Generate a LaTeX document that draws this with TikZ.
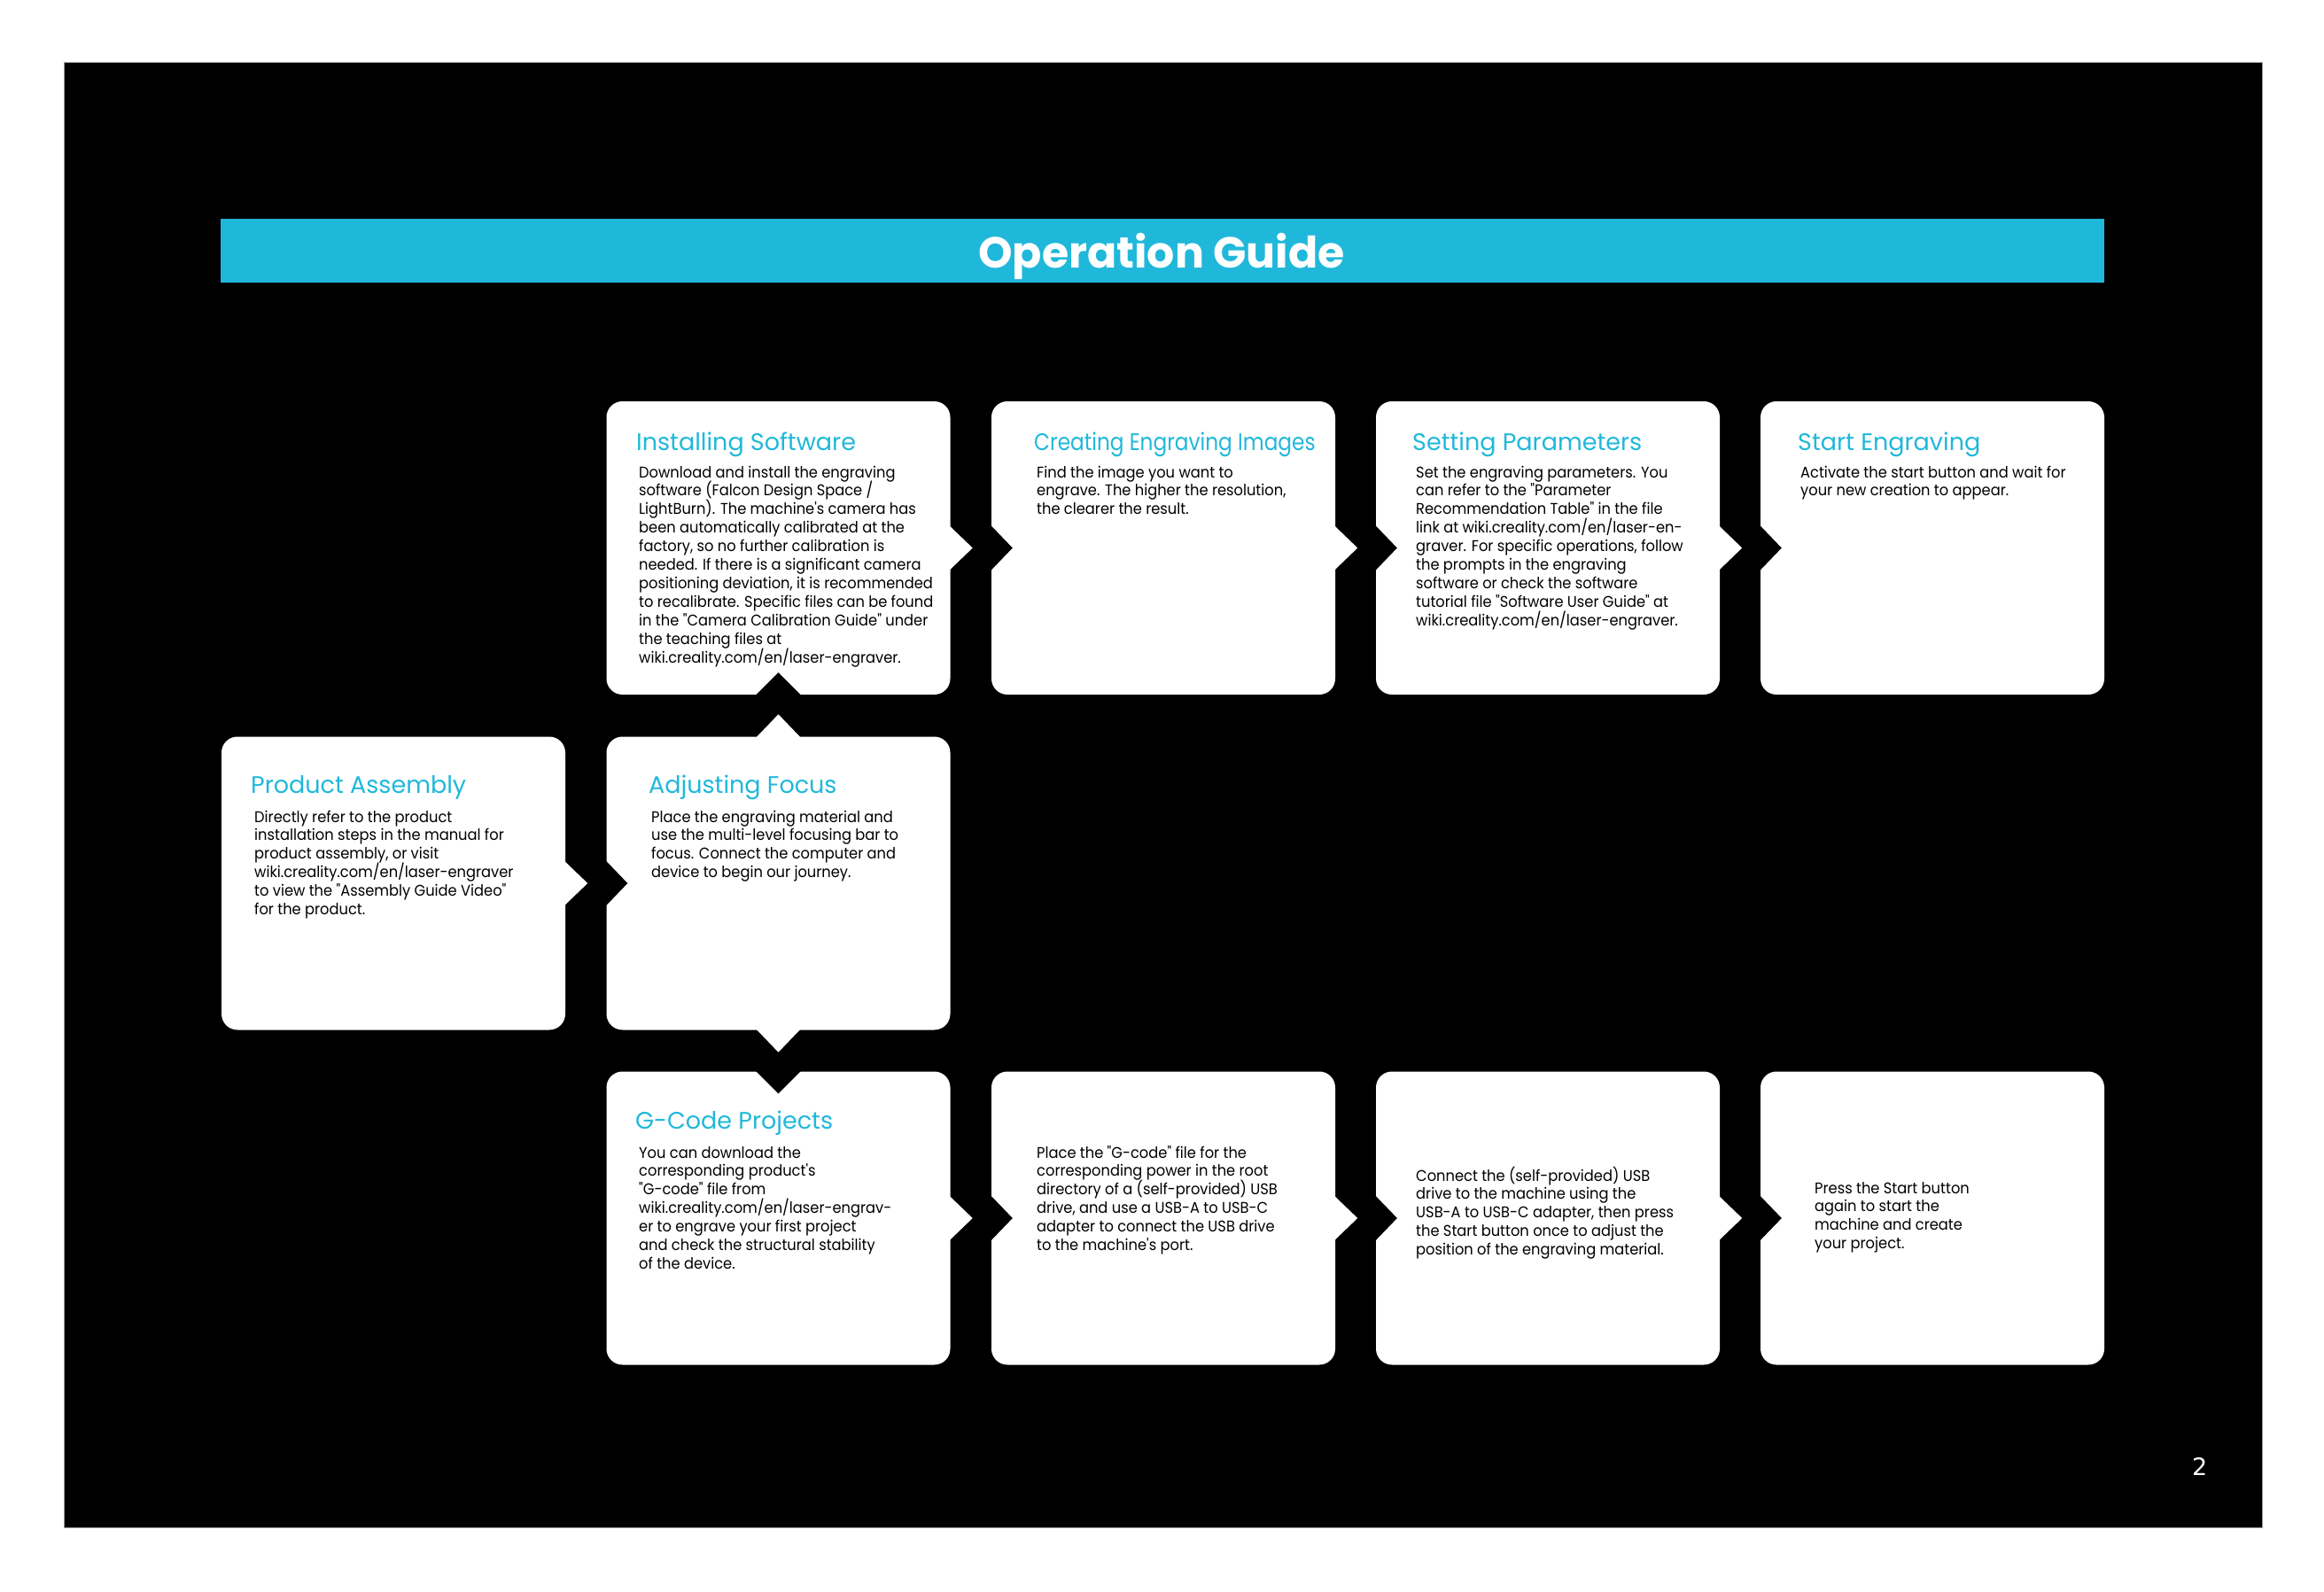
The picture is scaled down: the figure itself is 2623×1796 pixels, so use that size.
\documentclass[tikz,border=0pt]{standalone}
\usepackage{fontspec}
\setmainfont{Poppins}
\newfontfamily\bodyfont[FakeStretch=0.93]{Poppins}
\newfontfamily\numfont{DejaVu Sans}
\definecolor{guideblue}{HTML}{20B8DA}
\newcommand{\bodylines}[1]{\vtop{\baselineskip=20.9pt\lineskiplimit=-100pt\let\\\cr\halign{##\hfil\cr#1\crcr}}}
\tikzset{
  stepbox/.style={fill=white, rounded corners=18pt, minimum width=388pt, minimum height=331pt, inner sep=0pt, draw=none},
  headtext/.style={anchor=base west, inner sep=0pt, text=guideblue, font=\fontsize{27}{30}\selectfont},
  bodytext/.style={anchor=base west, inner sep=0pt, text=black, font=\bodyfont\fontsize{17.5}{21}\selectfont},
  tipw/.style={fill=white},
  notchb/.style={fill=black}
}
\begin{document}
\begin{tikzpicture}[x=1pt,y=-1pt]
\useasboundingbox (0,0) rectangle (2623,1796);
\fill[white] (0,0) rectangle (2623,1796);
\draw[fill=black, draw=gray!80, line width=1pt] (72,70) rectangle (2553,1724);
\node[fill=guideblue, minimum width=2126pt, minimum height=72pt, inner sep=0pt, anchor=north west] (bar) at (249,247) {};
\node[text=white, inner sep=0pt, anchor=base, font=\fontsize{49}{52}\selectfont\bfseries] (title) at (1311,302) {Operation Guide};

% boxes
\node[stepbox] (inst) at (878.5,618.5) {};
\node[stepbox] (create) at (1313,618.5) {};
\node[stepbox] (param) at (1747,618.5) {};
\node[stepbox] (start) at (2181,618.5) {};
\node[stepbox] (assem) at (444,997) {};
\node[stepbox] (focus) at (878.5,997) {};
\node[stepbox] (gcode) at (878.5,1375) {};
\node[stepbox] (place) at (1313,1375) {};
\node[stepbox] (connect) at (1747,1375) {};
\node[stepbox] (press) at (2181,1375) {};

% horizontal chevrons
\foreach \a/\b in {inst/create, create/param, param/start, assem/focus, gcode/place, place/connect, connect/press}{
  \fill[tipw] ([xshift=-1pt,yshift=25pt]\a.east) -- ([xshift=25pt]\a.east) -- ([xshift=-1pt,yshift=-25pt]\a.east) -- cycle;
  \fill[notchb] ([xshift=-1pt,yshift=26pt]\b.west) -- ([xshift=24pt]\b.west) -- ([xshift=-1pt,yshift=-26pt]\b.west) -- cycle;
}
% vertical chevrons
\fill[tipw] ([xshift=-25pt,yshift=-1pt]focus.north) -- ([yshift=25pt]focus.north) -- ([xshift=25pt,yshift=-1pt]focus.north) -- cycle;
\fill[notchb] ([xshift=-26pt,yshift=-1pt]inst.south) -- ([yshift=25pt]inst.south) -- ([xshift=26pt,yshift=-1pt]inst.south) -- cycle;
\fill[tipw] ([xshift=-25pt,yshift=1pt]focus.south) -- ([yshift=-25pt]focus.south) -- ([xshift=25pt,yshift=1pt]focus.south) -- cycle;
\fill[notchb] ([xshift=-26pt,yshift=1pt]gcode.north) -- ([yshift=-25pt]gcode.north) -- ([xshift=26pt,yshift=1pt]gcode.north) -- cycle;

% texts
\node[headtext] (instH) at (718,508) {Installing Software};
\node[bodytext] (instB) at (721,539) {\bodylines{Download and install the engraving\\
software (Falcon Design Space /\\
LightBurn). The machine's camera has\\
been automatically calibrated at the\\
factory, so no further calibration is\\
needed. If there is a significant camera\\
positioning deviation, it is recommended\\
to recalibrate. Specific files can be found\\
in the "Camera Calibration Guide" under\\
the teaching files at\\
wiki.creality.com/en/laser-engraver.}};

\node[headtext] (createH) at (1167,508) {\scalebox{0.86}[1]{Creating Engraving Images}};
\node[bodytext] (createB) at (1170,539) {\bodylines{Find the image you want to\\
engrave. The higher the resolution,\\
the clearer the result.}};

\node[headtext] (paramH) at (1594,508) {Setting Parameters};
\node[bodytext] (paramB) at (1598,539) {\bodylines{Set the engraving parameters. You\\
can refer to the "Parameter\\
Recommendation Table" in the file\\
link at wiki.creality.com/en/laser-en-\\
graver. For specific operations, follow\\
the prompts in the engraving\\
software or check the software\\
tutorial file "Software User Guide" at\\
wiki.creality.com/en/laser-engraver.}};

\node[headtext] (startH) at (2029,508) {Start Engraving};
\node[bodytext] (startB) at (2032,539) {\bodylines{Activate the start button and wait for\\
your new creation to appear.}};

\node[headtext] (assemH) at (283,895) {Product Assembly};
\node[bodytext] (assemB) at (287,928) {\bodylines{Directly refer to the product\\
installation steps in the manual for\\
product assembly, or visit\\
wiki.creality.com/en/laser-engraver\\
to view the "Assembly Guide Video"\\
for the product.}};

\node[headtext] (focusH) at (732,895) {Adjusting Focus};
\node[bodytext] (focusB) at (735,928) {\bodylines{Place the engraving material and\\
use the multi-level focusing bar to\\
focus. Connect the computer and\\
device to begin our journey.}};

\node[headtext] (gcodeH) at (717,1274) {G-Code Projects};
\node[bodytext] (gcodeB) at (721,1307) {\bodylines{You can download the\\
corresponding product's\\
"G-code" file from\\
wiki.creality.com/en/laser-engrav-\\
er to engrave your first project\\
and check the structural stability\\
of the device.}};

\node[bodytext] (placeB) at (1170,1307) {\bodylines{Place the "G-code" file for the\\
corresponding power in the root\\
directory of a (self-provided) USB\\
drive, and use a USB-A to USB-C\\
adapter to connect the USB drive\\
to the machine's port.}};

\node[bodytext] (connectB) at (1598,1333) {\bodylines{Connect the (self-provided) USB\\
drive to the machine using the\\
USB-A to USB-C adapter, then press\\
the Start button once to adjust the\\
position of the engraving material.}};

\node[bodytext] (pressB) at (2048,1347) {\bodylines{Press the Start button\\
again to start the\\
machine and create\\
your project.}};

\node[text=white, inner sep=0pt, anchor=base west, font=\numfont\fontsize{27}{30}\selectfont] (pagenum) at (2474,1665) {2};
\end{tikzpicture}
\end{document}
